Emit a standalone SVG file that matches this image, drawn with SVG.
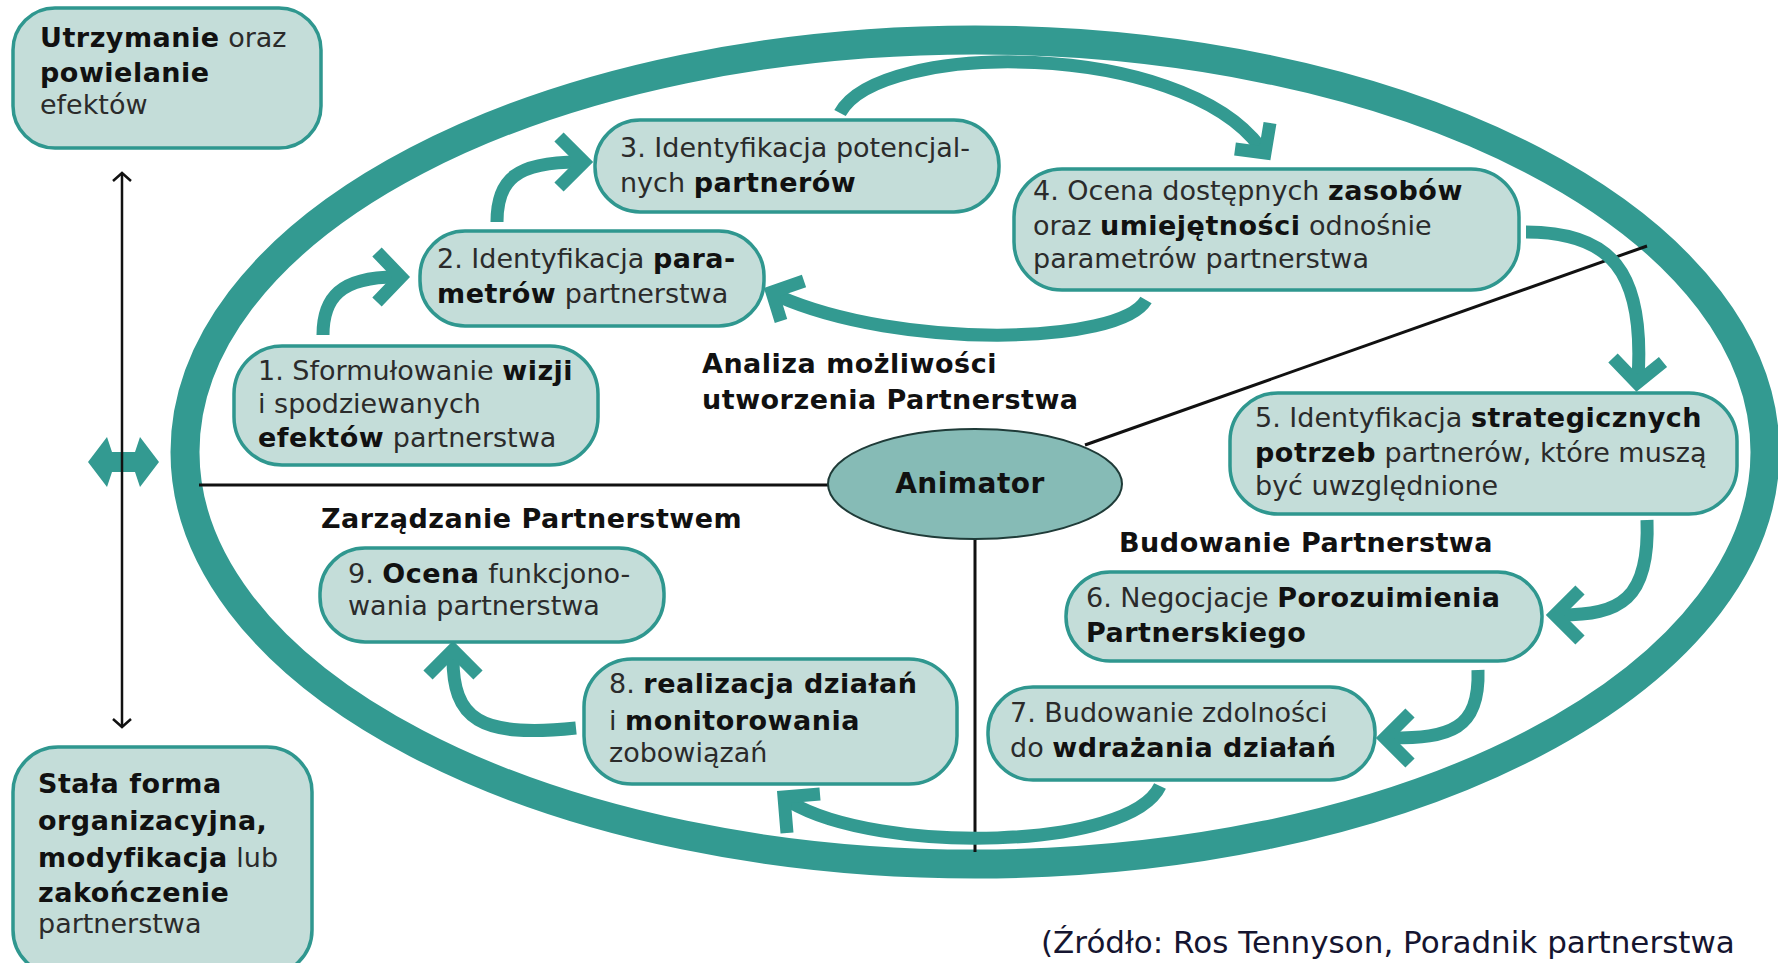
<svg xmlns="http://www.w3.org/2000/svg" width="1778" height="963" viewBox="0 0 1778 963">
<defs>
<style>
text{font-family:"DejaVu Sans","Liberation Sans",sans-serif;font-size:27px;fill:#2b2b2b}
.b{font-weight:bold;fill:#111;letter-spacing:0.5px}
.box{fill:#c4ddd9;stroke:#2f978f;stroke-width:3.5}
.ring{fill:none;stroke:#339a91;stroke-width:29}
.ln{stroke:#111;stroke-width:3;fill:none}
.ar{fill:none;stroke:#339a91;stroke-width:13;stroke-linecap:butt;stroke-linejoin:miter}
.thin{fill:none;stroke:#111;stroke-width:2.5}
</style>
</defs>
<rect width="1778" height="963" fill="#fff"/>
<g id="frame">
<ellipse class="ring" cx="975" cy="452" rx="790" ry="412"/>
</g>
<g id="connectors">
<line class="ln" x1="199" y1="485" x2="830" y2="485"/>
<line class="ln" x1="975" y1="538" x2="975" y2="852"/>
<line class="ln" x1="1085" y1="445" x2="1647" y2="246"/>
<polygon fill="#339a91" points="88,462 107,437 112,452 135,452 140,437 159,462 140,487 135,472 112,472 107,487"/>
<line class="thin" x1="122" y1="173" x2="122" y2="727"/>
<polyline class="thin" points="113,181 122,173 131,181"/>
<polyline class="thin" points="113,719 122,727 131,719"/>
<path class="ar" d="M323 335 C323 298 340 277 396 277"/>
<polyline class="ar" points="377,252 401,277 377,302"/>
<path class="ar" d="M497 222 C497 180 515 162 579 162"/>
<polyline class="ar" points="559,137 584,162 559,187"/>
<path class="ar" d="M840 113 C880 40 1180 40 1260 147"/>
<polyline class="ar" points="1235,149 1265,153 1270,123"/>
<path class="ar" d="M1146 300 C1120 345 900 350 778 296"/>
<polyline class="ar" points="781,321 772,292 804,281"/>
<path class="ar" d="M1526 232 C1610 232 1645 270 1638 378"/>
<polyline class="ar" points="1613,358 1637,383 1663,362"/>
<path class="ar" d="M1647 520 C1650 600 1620 615 1560 615"/>
<polyline class="ar" points="1580,590 1555,615 1580,640"/>
<path class="ar" d="M1478 670 C1480 730 1450 738 1390 738"/>
<polyline class="ar" points="1410,713 1385,738 1410,763"/>
<path class="ar" d="M1160 786 C1130 850 880 855 790 802"/>
<polyline class="ar" points="787,833 784,797 820,794"/>
<path class="ar" d="M576 728 C480 738 452 720 453 655"/>
<polyline class="ar" points="428,675 453,650 478,675"/>
</g>
<g id="animator">
<ellipse cx="975" cy="484" rx="147" ry="55" fill="#86bbb6" stroke="#1f3b38" stroke-width="2"/>
<text class="b" x="970" y="493" text-anchor="middle" style="font-size:28px">Animator</text>
</g>
<g id="label-analiza">
<text class="b" x="702" y="373">Analiza możliwości</text>
<text class="b" x="702" y="409">utworzenia Partnerstwa</text>
</g>
<g id="label-zarzadzanie">
<text class="b" x="321" y="528">Zarządzanie Partnerstwem</text>
</g>
<g id="label-budowanie">
<text class="b" x="1119" y="552">Budowanie Partnerstwa</text>
</g>
<g id="box-utrzymanie">
<rect class="box" x="13" y="8" width="308" height="140" rx="42"/>
<text x="40" y="47"><tspan class="b">Utrzymanie</tspan> oraz</text>
<text x="40" y="82" class="b">powielanie</text>
<text x="40" y="114">efektów</text>
</g>
<g id="box-stala">
<rect class="box" x="13" y="747" width="299" height="228" rx="45"/>
<text x="38" y="793" class="b">Stała forma</text>
<text x="38" y="830" class="b">organizacyjna,</text>
<text x="38" y="867"><tspan class="b">modyfikacja</tspan> lub</text>
<text x="38" y="902" class="b">zakończenie</text>
<text x="38" y="933">partnerstwa</text>
</g>
<g id="node1">
<rect class="box" x="234" y="346" width="364" height="119" rx="48"/>
<text x="258" y="380">1. Sformułowanie <tspan class="b">wizji</tspan></text>
<text x="258" y="413">i spodziewanych</text>
<text x="258" y="447"><tspan class="b">efektów</tspan> partnerstwa</text>
</g>
<g id="node2">
<rect class="box" x="420" y="231" width="344" height="95" rx="45"/>
<text x="437" y="268">2. Identyfikacja <tspan class="b">para-</tspan></text>
<text x="437" y="303"><tspan class="b">metrów</tspan> partnerstwa</text>
</g>
<g id="node3">
<rect class="box" x="595" y="120" width="404" height="92" rx="45"/>
<text x="620" y="157">3. Identyfikacja potencjal-</text>
<text x="620" y="192">nych <tspan class="b">partnerów</tspan></text>
</g>
<g id="node4">
<rect class="box" x="1014" y="169" width="505" height="121" rx="48"/>
<text x="1033" y="200">4. Ocena dostępnych <tspan class="b">zasobów</tspan></text>
<text x="1033" y="235">oraz <tspan class="b">umiejętności</tspan> odnośnie</text>
<text x="1033" y="268">parametrów partnerstwa</text>
</g>
<g id="node5">
<rect class="box" x="1230" y="393" width="507" height="121" rx="48"/>
<text x="1255" y="427">5. Identyfikacja <tspan class="b">strategicznych</tspan></text>
<text x="1255" y="462"><tspan class="b">potrzeb</tspan> partnerów, które muszą</text>
<text x="1255" y="495">być uwzględnione</text>
</g>
<g id="node6">
<rect class="box" x="1066" y="572" width="476" height="89" rx="44"/>
<text x="1086" y="607">6. Negocjacje <tspan class="b">Porozuimienia</tspan></text>
<text x="1086" y="642" class="b">Partnerskiego</text>
</g>
<g id="node7">
<rect class="box" x="988" y="687" width="387" height="93" rx="45"/>
<text x="1010" y="722">7. Budowanie zdolności</text>
<text x="1010" y="757">do <tspan class="b">wdrażania działań</tspan></text>
</g>
<g id="node8">
<rect class="box" x="584" y="659" width="373" height="125" rx="48"/>
<text x="609" y="693">8. <tspan class="b">realizacja działań</tspan></text>
<text x="609" y="730">i <tspan class="b">monitorowania</tspan></text>
<text x="609" y="762">zobowiązań</text>
</g>
<g id="node9">
<rect class="box" x="320" y="548" width="344" height="94" rx="45"/>
<text x="348" y="583">9. <tspan class="b">Ocena</tspan> funkcjono-</text>
<text x="348" y="615">wania partnerstwa</text>
</g>
<g id="source">
<text x="1041" y="953" style="font-size:31px;fill:#151530">(Źródło: Ros Tennyson, Poradnik partnerstwa</text>
</g>
</svg>
